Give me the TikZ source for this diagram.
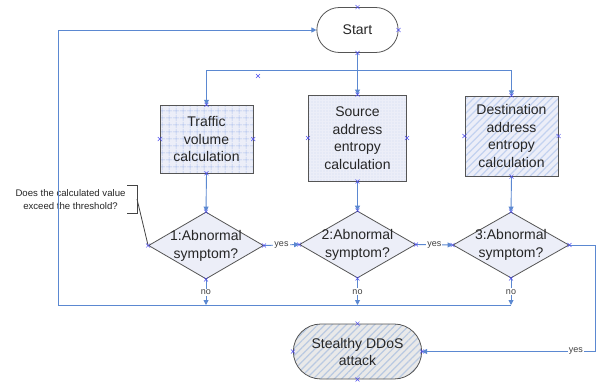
\documentclass[tikz,border=0pt]{standalone}
\usepackage{fontspec}
\setmainfont{Liberation Sans}
\usetikzlibrary{arrows.meta,shapes.geometric,shapes.misc,patterns.meta}
\definecolor{lineblue}{HTML}{5B88D1}
\definecolor{boxfill}{HTML}{ECEEF8}
\definecolor{bord}{HTML}{555555}
\definecolor{xblue}{HTML}{5050F0}
\definecolor{gridblue}{HTML}{ABBFEC}
\definecolor{dotblue}{HTML}{9FB2E2}
\definecolor{hatchblue}{HTML}{C3D2F0}
\definecolor{stfill}{HTML}{E9E9E9}
\definecolor{sthatch}{HTML}{B9C9E2}
\tikzset{
  xm/.pic={\draw[xblue,line width=0.5pt] (-2,-2)--(2,2) (-2,2)--(2,-2);},
  term/.style={draw=bord, line width=0.8pt, rounded rectangle, align=center,
    font=\fontsize{14}{17}\selectfont, text=black!85},
  proc/.style={draw=bord, line width=0.9pt, rectangle, align=center,
    font=\fontsize{14}{17.5}\selectfont, text=black!85},
  dia/.style={draw=bord, line width=0.8pt, diamond, fill=boxfill, inner sep=0pt},
  diatext/.style={align=center, font=\fontsize{14}{18}\selectfont, text=black!85, inner sep=0pt},
  line/.style={draw=lineblue, line width=0.9pt},
  flow/.style={line, -{Triangle[length=5pt,width=5pt]}},
  lbl/.style={font=\fontsize{9}{10}\selectfont, fill=white, inner sep=1pt, text=black!75},
  note/.style={align=center, font=\fontsize{9.6}{12.5}\selectfont, text=black!85, inner sep=0pt}
}
\begin{document}
\begin{tikzpicture}[x=1pt,y=-1pt]
\useasboundingbox (0,0) rectangle (603,381);
\fill[white] (0,0) rectangle (603,381);

% nodes
\node[term, minimum width=88pt, minimum height=45pt] (start) at (357.5,30) {Start};
\node[proc, minimum width=93pt, minimum height=68pt,
  preaction={fill=boxfill}, pattern={Hatch[angle=0,distance=6.5pt,line width=0.5pt]}, pattern color=gridblue]
  (b1) at (206.5,139) {Traffic\\volume\\calculation};
\node[proc, minimum width=98pt, minimum height=86pt,
  preaction={fill=boxfill}, pattern={Dots[distance=3pt,radius=0.35pt]}, pattern color=dotblue]
  (b2) at (357.5,138) {Source\\address\\entropy\\calculation};
\node[proc, minimum width=93pt, minimum height=80pt,
  preaction={fill=boxfill}, pattern={Lines[angle=45,distance=5pt,line width=1.2pt]}, pattern color=hatchblue]
  (b3) at (511.5,136) {Destination\\address\\entropy\\calculation};

\node[dia, minimum width=115pt, minimum height=67pt] (d1) at (206,245.5) {};
\node[dia, minimum width=116pt, minimum height=67pt] (d2) at (357.5,244.5) {};
\node[dia, minimum width=116pt, minimum height=66pt] (d3) at (511,245) {};
\node[diatext] (t1) at (d1) {1:Abnormal\\symptom?};
\node[diatext] (t2) at (d2) {2:Abnormal\\symptom?};
\node[diatext] (t3) at (d3) {3:Abnormal\\symptom?};

\node[term, minimum width=135pt, minimum height=55pt,
  preaction={fill=stfill}, pattern={Lines[angle=45,distance=5pt,line width=1.2pt]}, pattern color=sthatch]
  (st) at (357.5,351.5) {Stealthy DDoS\\attack};

\node[note] (ct) at (70.5,199.5) {Does the calculated value\\exceed the threshold?};

% coordinates
\coordinate (tb) at (357.5,70);
\coordinate (lb) at (58,305);
\coordinate (rc) at (595,351.5);
\coordinate (br) at (137,199);

% connectors
\draw[line] (start.south) -- (tb);
\draw[line] (b1.north |- tb) -- (b3.north |- tb);
\draw[flow] (tb) -| (b1.north);
\draw[flow] (tb) -- (b2.north);
\draw[flow] (tb) -| (b3.north);

\draw[flow] (b1.south) -- (d1.north);
\draw[flow] (b2.south) -- (d2.north);
\draw[flow] (b3.south) -- (d3.north);

\draw[flow] (d1.east) -- node[lbl]{yes} (d2.west);
\draw[flow] (d2.east) -- node[lbl]{yes} (d3.west);

\draw[flow] (d1.south) -- node[lbl]{no} (d1.south |- lb);
\draw[flow] (d2.south) -- node[lbl]{no} (d2.south |- lb);
\draw[flow] (d3.south) -- node[lbl]{no} (d3.south |- lb);

\draw[flow] (d3.south |- lb) -- (lb) |- (start.west);

\draw[flow] (d3.east) -| (rc) -- node[lbl,pos=0.11]{yes} (st.east);

% callout
\draw[bord!80!black, line width=0.8pt] (127,185) -- (137,185) -- (137,213) -- (127,213);
\draw[bord!80!black, line width=0.8pt] (br) -- (d1.west);

% connection marks
\foreach \n in {b1,b2,b3,d1,d2,d3,st}
  \foreach \a in {north,south,east,west}
    \pic at (\n.\a) {xm};
\foreach \a in {north,south,east}
  \pic at (start.\a) {xm};
\pic at (258,76) {xm};
\end{tikzpicture}
\end{document}
